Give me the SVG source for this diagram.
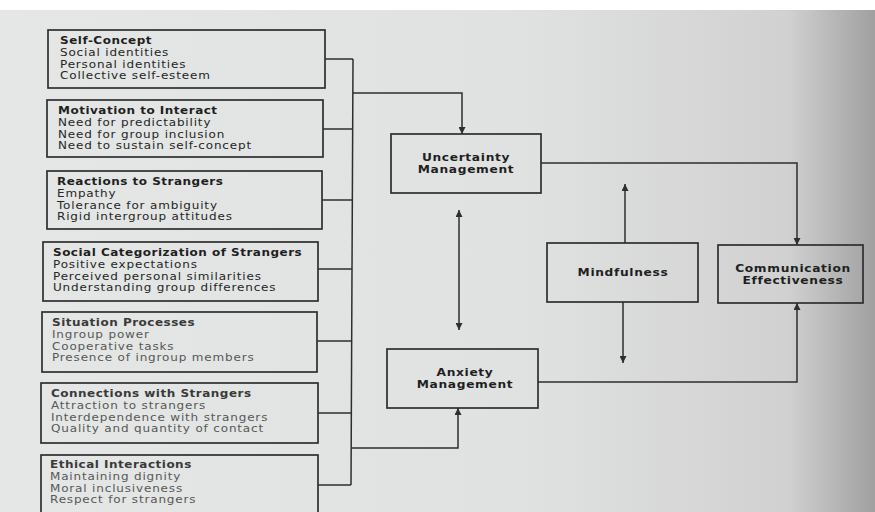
<svg xmlns="http://www.w3.org/2000/svg" width="875" height="512" viewBox="0 0 875 512">
  <defs>
    <linearGradient id="paper" x1="0" y1="0" x2="1" y2="0">
      <stop offset="0" stop-color="#e4e7e5"/>
      <stop offset="0.6" stop-color="#e0e2e1"/>
      <stop offset="0.9" stop-color="#d0d1d0"/>
      <stop offset="1" stop-color="#a0a0a0"/>
    </linearGradient>
    <marker id="arrow" viewBox="0 0 10 10" refX="10" refY="5" markerWidth="7" markerHeight="7" markerUnits="userSpaceOnUse" orient="auto-start-reverse">
      <path d="M0,0 L10,5 L0,10 z" fill="#2e2e2e"/>
    </marker>
    <style>
      .box { fill: none; stroke: #2e2e2e; stroke-width: 1.7; }
      .conn { fill: none; stroke: #2e2e2e; stroke-width: 1.5; }
      .title { font-family: "DejaVu Sans", "Liberation Sans", sans-serif; font-size: 10px; font-weight: bold; fill: #1f1f1f; letter-spacing: 0.42px; }
      .item { font-family: "DejaVu Sans", "Liberation Sans", sans-serif; font-size: 10px; fill: #262626; letter-spacing: 0.7px; }
      .faint .title { fill: #3a3a3a; }
      .faint .item { fill: #585858; }
      .label { font-family: "DejaVu Sans", "Liberation Sans", sans-serif; font-size: 10.2px; font-weight: bold; fill: #1f1f1f; letter-spacing: 0.55px; text-anchor: middle; }
    </style>
  </defs>

  <rect x="0" y="0" width="875" height="512" fill="#ffffff"/>
  <rect x="0" y="10" width="875" height="502" fill="url(#paper)"/>

  <g id="connectors">
    <polyline class="conn" points="325,59 353,59"/>
    <polyline class="conn" points="323,129 353,129"/>
    <polyline class="conn" points="322,200 353,200"/>
    <polyline class="conn" points="318,269 352,269"/>
    <polyline class="conn" points="317,341 352,341"/>
    <polyline class="conn" points="318,413 351,413"/>
    <polyline class="conn" points="318,485 351,485"/>
    <polyline class="conn" points="353,59 352,270 351,485"/>
    <polyline class="conn" points="353,93 462,93 462,134" marker-end="url(#arrow)"/>
    <polyline class="conn" points="351,448 458,448 458,408" marker-end="url(#arrow)"/>
    <polyline class="conn" points="541,163 797,163 797,245" marker-end="url(#arrow)"/>
    <polyline class="conn" points="538,382 797,382 797,303" marker-end="url(#arrow)"/>
    <line class="conn" x1="625" y1="243" x2="625" y2="184" marker-end="url(#arrow)"/>
    <line class="conn" x1="623" y1="302" x2="623" y2="363" marker-end="url(#arrow)"/>
    <line class="conn" x1="459" y1="210" x2="459" y2="330" marker-start="url(#arrow)" marker-end="url(#arrow)"/>
  </g>

  <g id="self-concept">
    <rect class="box" x="48" y="30" width="277" height="58"/>
    <g transform="translate(60,0) scale(1.2,1)">
      <text class="title" x="0" y="44">Self-Concept</text>
      <text class="item" x="0" y="55.8">Social identities</text>
      <text class="item" x="0" y="67.6">Personal identities</text>
      <text class="item" x="0" y="79.4">Collective self-esteem</text>
    </g>
  </g>

  <g id="motivation">
    <rect class="box" x="47" y="100" width="276" height="57"/>
    <g transform="translate(58,0) scale(1.2,1)">
      <text class="title" x="0" y="114">Motivation to Interact</text>
      <text class="item" x="0" y="125.8">Need for predictability</text>
      <text class="item" x="0" y="137.6">Need for group inclusion</text>
      <text class="item" x="0" y="149.4">Need to sustain self-concept</text>
    </g>
  </g>

  <g id="reactions">
    <rect class="box" x="47" y="171" width="275" height="58"/>
    <g transform="translate(57,0) scale(1.2,1)">
      <text class="title" x="0" y="185">Reactions to Strangers</text>
      <text class="item" x="0" y="196.8">Empathy</text>
      <text class="item" x="0" y="208.6">Tolerance for ambiguity</text>
      <text class="item" x="0" y="220.4">Rigid intergroup attitudes</text>
    </g>
  </g>

  <g id="social-categorization">
    <rect class="box" x="43" y="242" width="275" height="59"/>
    <g transform="translate(53,0) scale(1.2,1)">
      <text class="title" x="0" y="256">Social Categorization of Strangers</text>
      <text class="item" x="0" y="267.8">Positive expectations</text>
      <text class="item" x="0" y="279.6">Perceived personal similarities</text>
      <text class="item" x="0" y="291.4">Understanding group differences</text>
    </g>
  </g>

  <g id="situation-processes" class="faint">
    <rect class="box" x="42" y="312" width="275" height="60"/>
    <g transform="translate(52,0) scale(1.2,1)">
      <text class="title" x="0" y="326">Situation Processes</text>
      <text class="item" x="0" y="337.8">Ingroup power</text>
      <text class="item" x="0" y="349.6">Cooperative tasks</text>
      <text class="item" x="0" y="361.4">Presence of ingroup members</text>
    </g>
  </g>

  <g id="connections" class="faint">
    <rect class="box" x="41" y="383" width="277" height="60"/>
    <g transform="translate(51,0) scale(1.2,1)">
      <text class="title" x="0" y="397">Connections with Strangers</text>
      <text class="item" x="0" y="408.8">Attraction to strangers</text>
      <text class="item" x="0" y="420.6">Interdependence with strangers</text>
      <text class="item" x="0" y="432.4">Quality and quantity of contact</text>
    </g>
  </g>

  <g id="ethical-interactions" class="faint">
    <rect class="box" x="41" y="455" width="277" height="70"/>
    <g transform="translate(50,0) scale(1.2,1)">
      <text class="title" x="0" y="468">Ethical Interactions</text>
      <text class="item" x="0" y="479.8">Maintaining dignity</text>
      <text class="item" x="0" y="491.6">Moral inclusiveness</text>
      <text class="item" x="0" y="503.4">Respect for strangers</text>
    </g>
  </g>

  <g id="uncertainty-management">
    <rect class="box" x="391" y="134" width="150" height="59"/>
    <g transform="translate(466,0) scale(1.2,1)">
      <text class="label" x="0" y="161">Uncertainty</text>
      <text class="label" x="0" y="173">Management</text>
    </g>
  </g>

  <g id="anxiety-management">
    <rect class="box" x="387" y="349" width="151" height="59"/>
    <g transform="translate(465,0) scale(1.2,1)">
      <text class="label" x="0" y="376">Anxiety</text>
      <text class="label" x="0" y="388">Management</text>
    </g>
  </g>

  <g id="mindfulness">
    <rect class="box" x="547" y="243" width="151" height="59"/>
    <g transform="translate(623,0) scale(1.2,1)">
      <text class="label" x="0" y="276">Mindfulness</text>
    </g>
  </g>

  <g id="communication-effectiveness">
    <rect class="box" x="718" y="245" width="145" height="58"/>
    <g transform="translate(793,0) scale(1.2,1)">
      <text class="label" x="0" y="272">Communication</text>
      <text class="label" x="0" y="284">Effectiveness</text>
    </g>
  </g>
</svg>
